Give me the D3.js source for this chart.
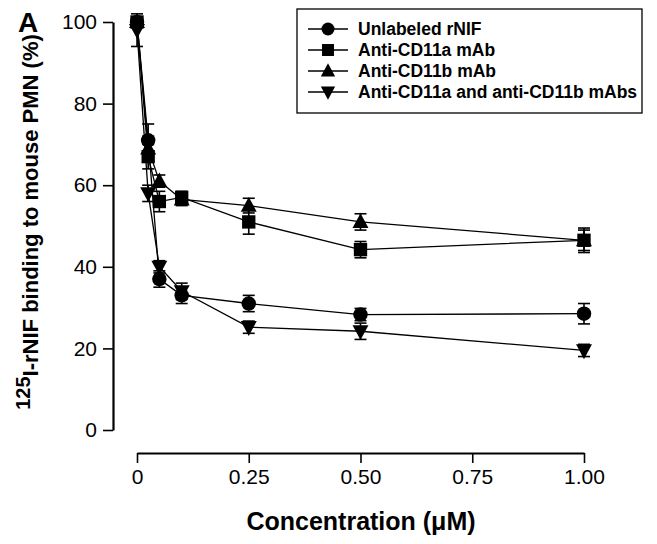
<!DOCTYPE html>
<html>
<head>
<meta charset="utf-8">
<script src="https://cdn.jsdelivr.net/npm/d3@7/dist/d3.min.js"></script>
<style>
  body { margin: 0; background: #fff; }
  svg { display: block; font-family: "Liberation Sans", Arial, Helvetica, sans-serif; }
</style>
</head>
<body>
<svg></svg>
<script>
// concentrations (uM)
let conc = [0, 0.025, 0.05, 0.1, 0.25, 0.5, 1.0]

let seriesNames = ['Unlabeled rNIF', 'Anti-CD11a mAb', 'Anti-CD11b mAb', 'Anti-CD11a and anti-CD11b mAbs']
let seriesSymbols = ['circle', 'square', 'up', 'down']

// binding (%)
let unlabeled = [100, 71, 37, 33, 31, 28.3, 28.5]
let antiCD11a = [100, 67, 56, 57, 51, 44.2, 46.5]
let antiCD11b = [100, 69, 61, 56.5, 55, 51, 46.5]
let antiBoth = [98, 58, 40, 34, 25.2, 24.2, 19.5]

// error (+/-)
let errUnlabeled = [1, 4, 2, 2, 2, 1.5, 2.5]
let errCD11a = [1, 3, 2.5, 1.5, 3, 2, 3]
let errCD11b = [1, 3, 1.5, 1.5, 1.8, 2, 2.5]
let errBoth = [4, 2, 1.5, 2, 1.5, 2, 1.5]

let yTicks = [0, 20, 40, 60, 80, 100]
let xTicks = [0, 0.25, 0.5, 0.75, 1.0]
let xTickLabels = ['0', '0.25', '0.50', '0.75', '1.00']

let width = 657
let height = 544

let svg = d3.select('svg').attr('width', width).attr('height', height)

let xScale = d3.scaleLinear().domain([0, 1]).range([137, 584])
let yScale = d3.scaleLinear().domain([0, 100]).range([430, 22])

let allValues = [unlabeled, antiCD11a, antiCD11b, antiBoth]
let allErrors = [errUnlabeled, errCD11a, errCD11b, errBoth]

// axes
let yAxis = d3.axisLeft(yScale).tickValues(yTicks).tickSize(10).tickSizeOuter(0).tickPadding(6)
let gy = svg.append('g').attr('transform', 'translate(113,0)').call(yAxis)

let xAxis = d3.axisBottom(xScale).tickValues(xTicks).tickSize(10).tickSizeOuter(0).tickPadding(6)
  .tickFormat((d, i) => xTickLabels[i])
let gx = svg.append('g').attr('transform', 'translate(0,453)').call(xAxis)

svg.selectAll('.domain').attr('stroke', '#000').attr('stroke-width', 2.2)
svg.selectAll('.tick line').attr('stroke', '#000').attr('stroke-width', 1.6)
svg.selectAll('.tick text').attr('fill', '#000').style('font-size', '21px')
  .style('font-family', '"Liberation Sans", Arial, sans-serif')

// symbols
const drawSymbol = (g, type, cx, cy, s) => {
  if (type === 'circle') {
    g.append('circle').attr('cx', cx).attr('cy', cy).attr('r', s * 0.5)
  } else if (type === 'square') {
    g.append('rect').attr('x', cx - s * 0.46).attr('y', cy - s * 0.46)
      .attr('width', s * 0.92).attr('height', s * 0.92)
  } else if (type === 'up') {
    g.append('path').attr('d', `M${cx},${cy - s * 0.6}L${cx + s * 0.55},${cy + s * 0.42}L${cx - s * 0.55},${cy + s * 0.42}Z`)
  } else {
    g.append('path').attr('d', `M${cx},${cy + s * 0.6}L${cx + s * 0.55},${cy - s * 0.42}L${cx - s * 0.55},${cy - s * 0.42}Z`)
  }
}

let line = d3.line().x(d => xScale(d[0])).y(d => yScale(d[1]))

let plot = svg.append('g')

allValues.forEach((vals, k) => {
  plot.append('path')
    .datum(conc.map((c, i) => [c, vals[i]]))
    .attr('d', line)
    .attr('fill', 'none')
    .attr('stroke', '#000')
    .attr('stroke-width', 1.3)
})

allValues.forEach((vals, k) => {
  let errs = allErrors[k]
  let g = plot.append('g').attr('stroke', '#000').attr('stroke-width', 1.6)
  conc.forEach((c, i) => {
    let x = xScale(c)
    let y1 = yScale(vals[i] - errs[i])
    let y2 = yScale(vals[i] + errs[i])
    g.append('line').attr('x1', x).attr('x2', x).attr('y1', y1).attr('y2', y2)
    g.append('line').attr('x1', x - 6).attr('x2', x + 6).attr('y1', y1).attr('y2', y1)
    g.append('line').attr('x1', x - 6).attr('x2', x + 6).attr('y1', y2).attr('y2', y2)
  })
})

allValues.forEach((vals, k) => {
  let g = plot.append('g').attr('fill', '#000')
  conc.forEach((c, i) => drawSymbol(g, seriesSymbols[k], xScale(c), yScale(vals[i]), 14.5))
})

// legend
let legend = svg.append('g')
legend.append('rect').attr('x', 297).attr('y', 9).attr('width', 345).attr('height', 104)
  .attr('fill', 'none').attr('stroke', '#000').attr('stroke-width', 1.3)

seriesNames.forEach((name, k) => {
  let cy = 29 + k * 21
  legend.append('line').attr('x1', 308).attr('x2', 348).attr('y1', cy).attr('y2', cy)
    .attr('stroke', '#000').attr('stroke-width', 1.3)
  drawSymbol(legend.append('g').attr('fill', '#000'), seriesSymbols[k], 328, cy, 13)
  legend.append('text').attr('x', 358).attr('y', cy + 6)
    .style('font-size', '17.5px').style('font-weight', 'bold').text(name)
})

// titles
svg.append('text').attr('x', 361).attr('y', 530).attr('text-anchor', 'middle')
  .style('font-size', '25px').style('font-weight', 'bold').text('Concentration (\u03bcM)')

let yTitle = svg.append('text')
  .attr('transform', 'translate(37,222) rotate(-90)')
  .attr('text-anchor', 'middle')
  .style('font-size', '22px').style('font-weight', 'bold')
yTitle.append('tspan').attr('dy', '-0.35em').style('font-size', '20px').text('125')
yTitle.append('tspan').attr('dy', '0.35em').text('I-rNIF binding to mouse PMN (%)')

svg.append('text').attr('x', 18).attr('y', 32)
  .style('font-size', '28px').style('font-weight', 'bold').text('A')
</script>
</body>
</html>
